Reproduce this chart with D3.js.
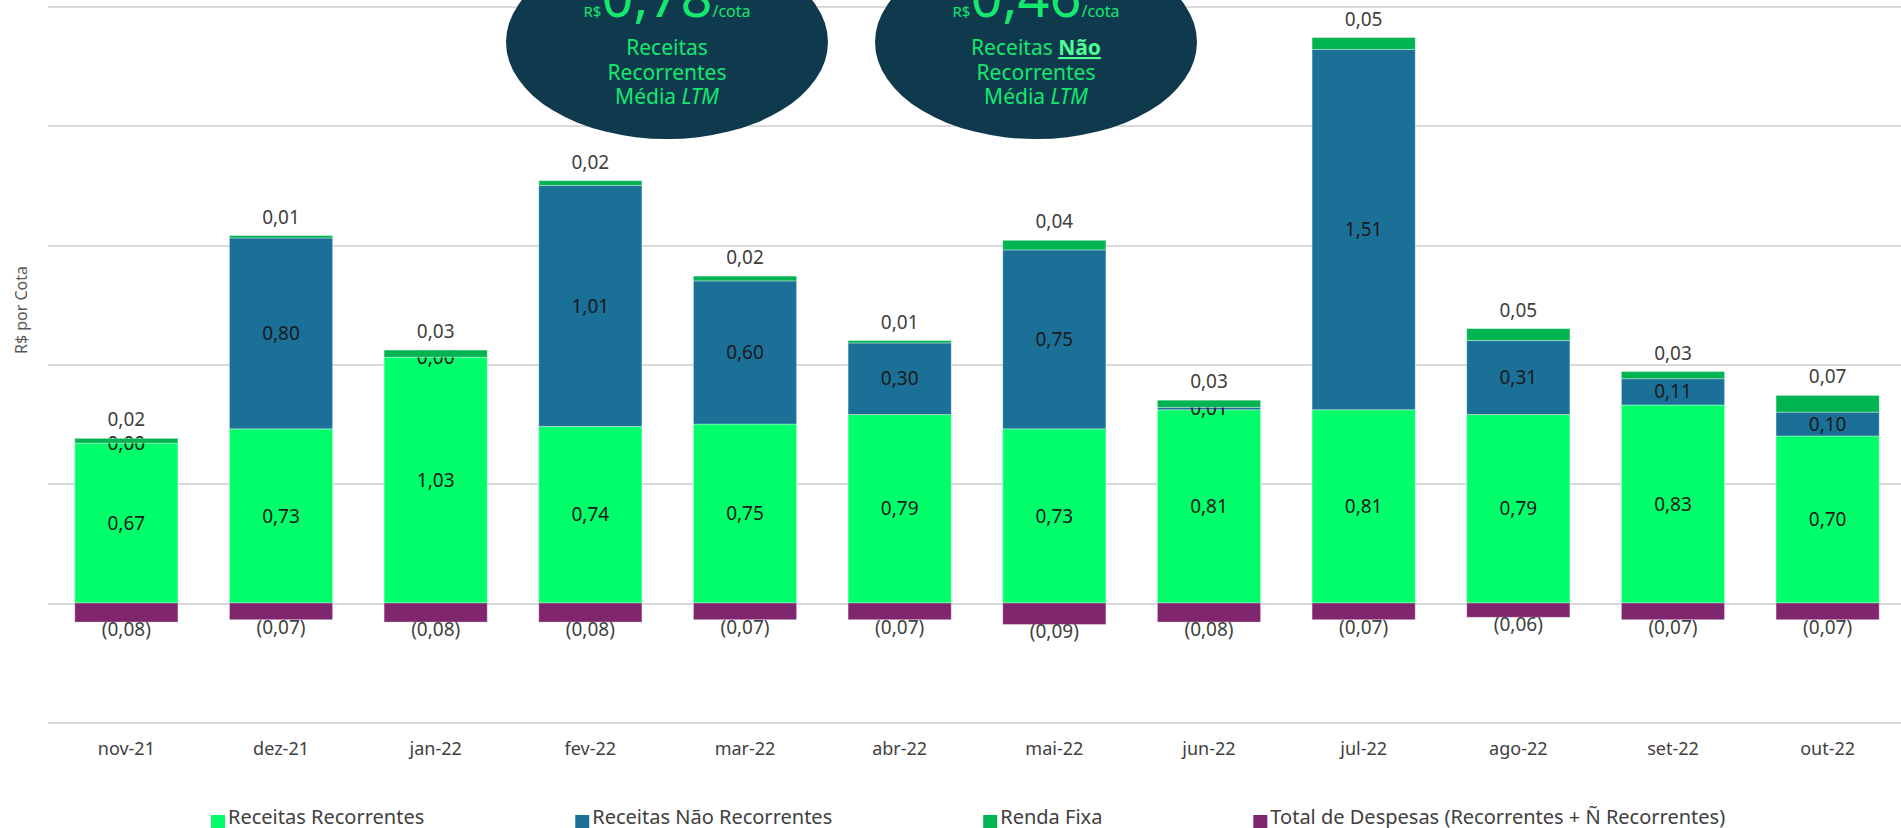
<!DOCTYPE html>
<html lang="pt-BR">

<head>
  <meta charset='utf-8'>
  <script src='https://cdn.jsdelivr.net/npm/d3@7/dist/d3.min.js'></script>
  <title>R$ por Cota</title>
  <style>
    body {
      margin: 0;
      background: #fff;
    }

    #chart {
      width: 1901px;
      height: 828px;
    }

    svg text {
      font-family: 'Noto Sans', sans-serif;
    }

    /* Gridlines only, no axis line or tick text. */

    .grid path {
      stroke: none;
    }

    .grid line {
      stroke: #d9d9d9;
      stroke-width: 2px;
      shape-rendering: crispEdges;
    }

    .grid text {
      display: none;
    }

    .xaxis path,
    .xaxis line {
      stroke: none;
    }

    .xaxis text {
      font-size: 18px;
      fill: #404040;
    }
  </style>
</head>

<body>
  <div id='chart'></div>
  <script>
    // Values.

    var months = ['nov-21', 'dez-21', 'jan-22', 'fev-22', 'mar-22', 'abr-22',
      'mai-22', 'jun-22', 'jul-22', 'ago-22', 'set-22', 'out-22'];

    var recorrentes = [0.67, 0.73, 1.03, 0.74, 0.75, 0.79, 0.73, 0.81, 0.81, 0.79, 0.83, 0.70];
    var naoRecorrentes = [0.00, 0.80, 0.00, 1.01, 0.60, 0.30, 0.75, 0.01, 1.51, 0.31, 0.11, 0.10];
    var rendaFixa = [0.02, 0.01, 0.03, 0.02, 0.02, 0.01, 0.04, 0.03, 0.05, 0.05, 0.03, 0.07];
    var despesas = [-0.08, -0.07, -0.08, -0.08, -0.07, -0.07, -0.09, -0.08, -0.07, -0.06, -0.07, -0.07];

    var gridTicks = [-0.5, 0, 0.5, 1.0, 1.5, 2.0, 2.5];

    var seriesNames = ['Receitas Recorrentes', 'Receitas Não Recorrentes', 'Renda Fixa',
      'Total de Despesas (Recorrentes + Ñ Recorrentes)'];

    var averages = ['0,78', '0,46'];

    function draw() {

      var width = 1901,
        height = 828;

      var keys = ['rec', 'nao', 'renda', 'desp'];

      var colors = {
        rec: '#00ff6a',
        nao: '#1b7098',
        renda: '#00b451',
        desp: '#7f266f'
      };

      var data = months.map(function(m, i) {
        return {
          month: m,
          rec: recorrentes[i],
          nao: naoRecorrentes[i],
          renda: rendaFixa[i],
          desp: despesas[i]
        };
      });

      var svg = d3.select('#chart')
        .append('svg')
        .attr('width', width)
        .attr('height', height);

      // Scales.

      var xScale = d3.scaleBand()
        .domain(months)
        .range([49, 1905])
        .paddingInner(0.333)
        .paddingOuter(0.1667);

      var yScale = d3.scaleLinear()
        .domain([-0.5, 2.5])
        .range([722.3, 6.5]);

      // Gridlines.

      svg.append('g')
        .attr('class', 'grid')
        .attr('transform', 'translate(48,0)')
        .call(d3.axisLeft(yScale)
          .tickValues(gridTicks)
          .tickSize(-(width - 48)));

      // Category labels.

      svg.append('g')
        .attr('class', 'xaxis')
        .attr('transform', 'translate(0,738)')
        .call(d3.axisBottom(xScale).tickSize(0).tickPadding(0))
        .selectAll('text')
        .attr('dy', '0.95em');

      // Positive parts stack upwards from zero, expenses hang below it.

      var series = d3.stack()
        .keys(['rec', 'nao', 'renda'])(data);

      series = series.concat(d3.stack()
        .keys(['desp'])(data));

      var fmt = function(v) {
        var s = d3.format('.2f')(Math.abs(v)).replace('.', ',');
        return v < 0 ? '(' + s + ')' : s;
      };

      var groups = svg.append('g')
        .selectAll('g')
        .data(series)
        .enter()
        .append('g')
        .attr('fill', function(d) {
          return colors[d.key];
        });

      groups.selectAll('rect')
        .data(function(d) {
          return d;
        })
        .enter()
        .append('rect')
        .attr('x', function(d) {
          return xScale(d.data.month);
        })
        .attr('y', function(d) {
          return yScale(Math.max(d[0], d[1]));
        })
        .attr('width', xScale.bandwidth())
        .attr('height', function(d) {
          return Math.abs(yScale(d[0]) - yScale(d[1]));
        })
        .attr('stroke', '#ffffff')
        .attr('stroke-opacity', 0.35)
        .attr('stroke-width', 1);

      // Data labels.

      groups.each(function(s) {
        var key = s.key;
        d3.select(this).selectAll('text')
          .data(s)
          .enter()
          .append('text')
          .attr('text-anchor', 'middle')
          .attr('font-size', '19px')
          .attr('fill', key == 'rec' || key == 'nao' ? '#1a1a1a' : '#404040')
          .attr('x', function(d) {
            return xScale(d.data.month) + xScale.bandwidth() / 2;
          })
          .attr('y', function(d) {
            if (key == 'renda') return yScale(d[1]) - 12;
            if (key == 'desp') return yScale(d[1]) + 14;
            return (yScale(d[0]) + yScale(d[1])) / 2;
          })
          .attr('dy', key == 'rec' || key == 'nao' ? '0.35em' : 0)
          .text(function(d) {
            return fmt(d.data[key]);
          });
      });

      // Y axis title.

      svg.append('text')
        .attr('transform', 'translate(27,310) rotate(-90)')
        .attr('text-anchor', 'middle')
        .attr('font-size', '16px')
        .attr('fill', '#595959')
        .text('R$ por Cota');

      // Average callouts.

      var callouts = [{
        cx: 667,
        value: averages[0],
        nao: false
      }, {
        cx: 1036,
        value: averages[1],
        nao: true
      }];

      var green = '#14e86d';

      var callout = svg.append('g')
        .selectAll('g')
        .data(callouts)
        .enter()
        .append('g')
        .attr('transform', function(d) {
          return 'translate(' + d.cx + ',0)';
        });

      callout.append('ellipse')
        .attr('cx', 0)
        .attr('cy', 42)
        .attr('rx', 161)
        .attr('ry', 97)
        .attr('fill', '#0f3a4e');

      var big = callout.append('text')
        .attr('text-anchor', 'middle')
        .attr('y', 17)
        .attr('fill', green);
      big.append('tspan').attr('font-size', '15px').text('R$');
      big.append('tspan').attr('font-size', '56px').text(function(d) {
        return d.value;
      });
      big.append('tspan').attr('font-size', '16px').text('/cota');

      var line1 = callout.append('text')
        .attr('text-anchor', 'middle')
        .attr('y', 55)
        .attr('font-size', '21px')
        .attr('fill', green);
      line1.append('tspan').text(function(d) {
        return d.nao ? 'Receitas ' : 'Receitas';
      });
      line1.filter(function(d) {
          return d.nao;
        })
        .append('tspan')
        .attr('font-weight', 'bold')
        .attr('text-decoration', 'underline')
        .attr('fill', '#4dff94')
        .text('Não');

      callout.append('text')
        .attr('text-anchor', 'middle')
        .attr('y', 80)
        .attr('font-size', '21px')
        .attr('fill', green)
        .text('Recorrentes');

      var line3 = callout.append('text')
        .attr('text-anchor', 'middle')
        .attr('y', 104)
        .attr('font-size', '21px')
        .attr('fill', green);
      line3.append('tspan').text('Média ');
      line3.append('tspan').attr('font-style', 'italic').text('LTM');

      // Legend, entries spaced by a fixed gap after each label.

      var legend = svg.append('g');
      var lx = 211;
      seriesNames.forEach(function(name, i) {
        legend.append('rect')
          .attr('x', lx)
          .attr('y', 815)
          .attr('width', 14)
          .attr('height', 14)
          .attr('fill', colors[keys[i]]);
        var t = legend.append('text')
          .attr('x', lx + 17)
          .attr('y', 824)
          .attr('font-size', '20px')
          .attr('fill', '#404040')
          .text(name);
        lx = lx + 17 + t.node().getComputedTextLength() + 151;
      });
    }

    draw();
  </script>
</body>

</html>
